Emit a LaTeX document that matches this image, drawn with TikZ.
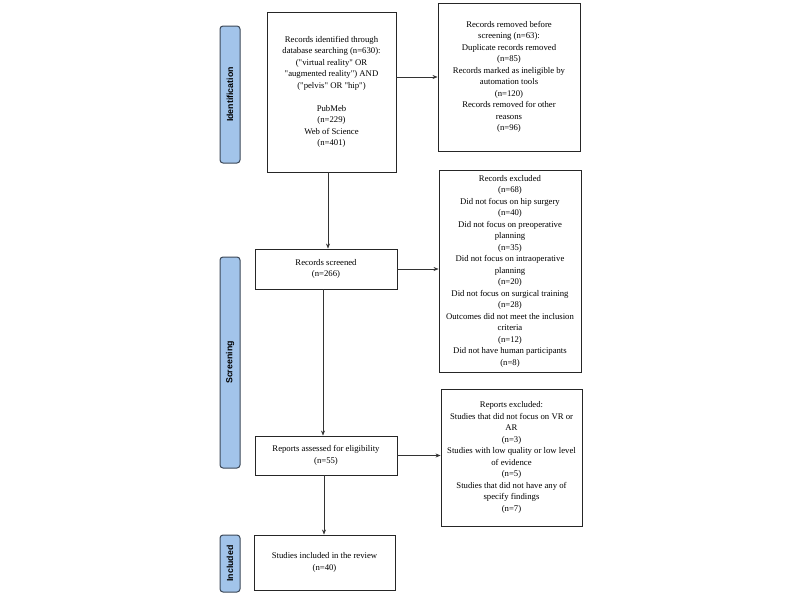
\documentclass[tikz,border=0pt]{standalone}
\usepackage{fontspec}
\setmainfont{Liberation Serif}
\setsansfont{Liberation Sans}
\usetikzlibrary{arrows.meta}
\definecolor{barfill}{HTML}{A2C4EA}
\definecolor{barline}{HTML}{3C4858}
\definecolor{arrline}{HTML}{333333}
\tikzset{
  box/.style={draw=black!85, line width=0.9pt, align=center, inner sep=2pt,
    font=\fontsize{8.7}{11.5}\selectfont},
  bar/.style={draw=barline, fill=barfill, line width=1pt, rounded corners=3pt,
    minimum width=20pt},
  bartext/.style={rotate=90, font=\sffamily\bfseries\fontsize{8.8}{10}\selectfont},
  arr/.style={draw=arrline, line width=0.6pt, -{Stealth[length=5pt,width=4pt]}}
}
\begin{document}
\begin{tikzpicture}[x=1pt,y=-1pt]
\useasboundingbox[fill=white] (0,0) rectangle (800,597);
% phase bars
\node[bar, minimum height=137pt] (bid) at (230,94.5) {};
\node[bartext] (tid) at (bid.center) {Identification};
\node[bar, minimum height=211pt] (bsc) at (230,362.5) {};
\node[bartext] (tsc) at (bsc.center) {Screening};
\node[bar, minimum height=57pt] (bin) at (230,563.5) {};
\node[bartext] (tin) at (bin.center) {Included};
% boxes
\node[box, minimum width=129pt, minimum height=160pt] (b1) at (331.5,92)
 {Records identified through\\database searching (n=630):\\(\textquotedbl virtual reality\textquotedbl{} OR\\\textquotedbl augmented reality\textquotedbl) AND\\(\textquotedbl pelvis\textquotedbl{} OR \textquotedbl hip\textquotedbl)\\[11.5pt]PubMeb\\(n=229)\\Web of Science\\(n=401)};
\node[box, minimum width=142pt, minimum height=148pt] (b2) at (509,77)
 {Records removed before\\screening (n=63):\\Duplicate records removed\\(n=85)\\Records marked as ineligible by\\automation tools\\(n=120)\\Records removed for other\\reasons\\(n=96)};
\node[box, minimum width=142pt, minimum height=40pt] (b3) at (326,269)
 {Records screened\\(n=266)};
\node[box, minimum width=142pt, minimum height=202pt] (b4) at (510,271)
 {Records excluded\\(n=68)\\Did not focus on hip surgery\\(n=40)\\Did not focus on preoperative\\planning\\(n=35)\\Did not focus on intraoperative\\planning\\(n=20)\\Did not focus on surgical training\\(n=28)\\Outcomes did not meet the inclusion\\criteria\\(n=12)\\Did not have human participants\\(n=8)};
\node[box, minimum width=142pt, minimum height=39pt] (b5) at (326,455.5)
 {Reports assessed for eligibility\\(n=55)};
\node[box, minimum width=141pt, minimum height=137pt] (b6) at (511.5,457.5)
 {Reports excluded:\\Studies that did not focus on VR or\\AR\\(n=3)\\Studies with low quality or low level\\of evidence\\(n=5)\\Studies that did not have any of\\specify findings\\(n=7)};
\node[box, minimum width=141pt, minimum height=55pt] (b7) at (324.5,562.5)
 {Studies included in the review\\(n=40)};
% arrows
\draw[arr] (b1.east |- b2.west) -- (b2.west);
\draw[arr] ([xshift=-3.5pt]b1.south) -- ([xshift=-3.5pt]b1.south |- b3.north);
\draw[arr] (b3.east) -- (b3.east -| b4.west);
\draw[arr] ([xshift=-3pt]b3.south) -- ([xshift=-3pt]b3.south |- b5.north);
\draw[arr] (b5.east) -- (b5.east -| b6.west);
\draw[arr] ([xshift=-2pt]b5.south) -- ([xshift=-2pt]b5.south |- b7.north);
\end{tikzpicture}
\end{document}
